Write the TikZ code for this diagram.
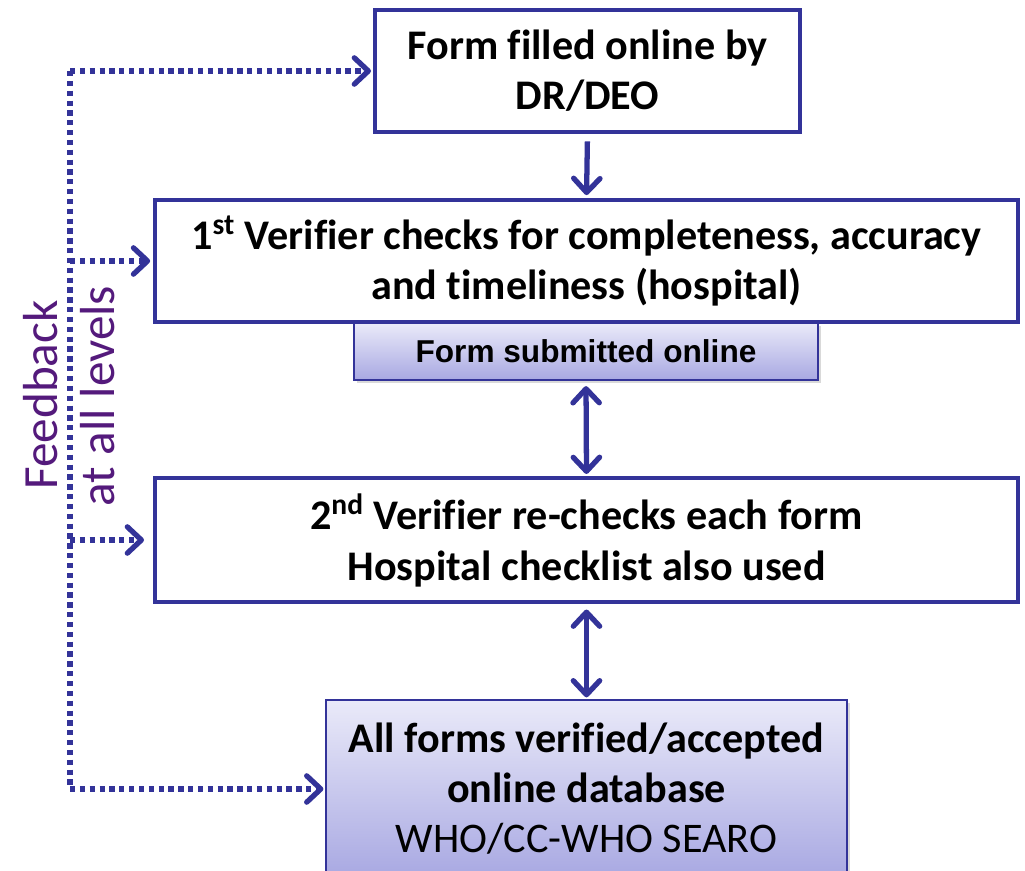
\documentclass[tikz,border=0pt]{standalone}
\usepackage{fontspec}
\setmainfont{Carlito}[Ligatures=NoCommon]
\newfontfamily\arialfont{Liberation Sans}
\usepackage{tikz}
\usetikzlibrary{positioning,arrows.meta,shadows}

\definecolor{flowblue}{RGB}{51,51,153}
\definecolor{gradtop}{RGB}{234,234,249}
\definecolor{gradbot}{RGB}{168,168,226}
\definecolor{fbpurple}{RGB}{84,26,124}

\tikzset{
  barb/.tip={Straight Barb[length=8pt,width=15pt,round]},
  box/.style={draw=flowblue,line width=2.6pt,fill=white,align=center,inner sep=0pt,
    font=\fontsize{24}{28.5}\selectfont\bfseries},
  shadebox/.style={draw=flowblue,line width=1pt,top color=gradtop,bottom color=gradbot,
    align=center,inner sep=0pt,drop shadow={shadow xshift=1.5pt,shadow yshift=-1.5pt,opacity=0.3}},
  link/.style={draw=flowblue,line width=3pt,-barb},
  twolink/.style={draw=flowblue,line width=3pt,barb-barb},
  fb/.style={draw=flowblue,line width=3pt,dash pattern=on 3pt off 2.6pt},
  fbtext/.style={rotate=90,text=fbpurple,font=\fontsize{28}{32}\selectfont},
}

\begin{document}
\begin{tikzpicture}[x=0.02cm,y=-0.02cm]
        \useasboundingbox (0,0) rectangle (1025,871);
        \clip (0,0) rectangle (1025,871);

        \node[box,minimum width=8.5cm,minimum height=2.44cm] (form) at (587.5,71) {Form filled online by\\DR/DEO};
        \node[shadebox,minimum width=9.28cm,minimum height=1.14cm,
          font=\arialfont\bfseries\fontsize{18}{21}\selectfont] (sub) at (586,351.5) {Form submitted online};
        \node[box,minimum width=17.26cm,minimum height=2.44cm] (ver1) at (586.5,261)
          {1\textsuperscript{st} Verifier checks for completeness, accuracy\\and timeliness (hospital)};
        \node[box,minimum width=17.26cm,minimum height=2.48cm] (ver2) at (586.5,540)
          {2\textsuperscript{nd} Verifier re-checks each form\\Hospital checklist also used};
        \node[shadebox,minimum width=10.42cm,minimum height=3.56cm,
          font=\fontsize{24}{28.5}\selectfont] (db) at (586.5,789)
          {\textbf{All forms verified/accepted}\\\textbf{online database}\\WHO/CC-WHO SEARO};

        %form>ver1
        \draw[link,shorten <=4pt,shorten >=1.5pt] (form.south) -- (ver1.north);
        %sub<>ver2
        \draw[twolink,shorten <=3pt,shorten >=1pt] (sub.south) -- (ver2.north);
        %ver2<>db
        \draw[twolink,shorten <=3pt,shorten >=1pt] (ver2.south) -- (db.north);

        %feedback line
        \coordinate (fbx) at (70,0);
        \coordinate (fbtop) at (form.west -| fbx);
        \coordinate (fbbot) at (db.west -| fbx);
        \draw[fb] (fbtop) -- (fbbot);
        \draw[fb,-barb,shorten >=1pt] (fbtop) -- (form.west);
        \draw[fb,-barb,shorten >=1.5pt] (ver1.west -| fbx) -- (ver1.west);
        \draw[fb,-barb,shorten >=5pt] (ver2.west -| fbx) -- (ver2.west);
        \draw[fb,-barb,shorten >=1pt] (fbbot) -- (db.west);

        \node[fbtext] (fblabel) at (41,395) {Feedback};
        \node[fbtext] (fblevels) at (98,396) {at all levels};
\end{tikzpicture}
\end{document}
